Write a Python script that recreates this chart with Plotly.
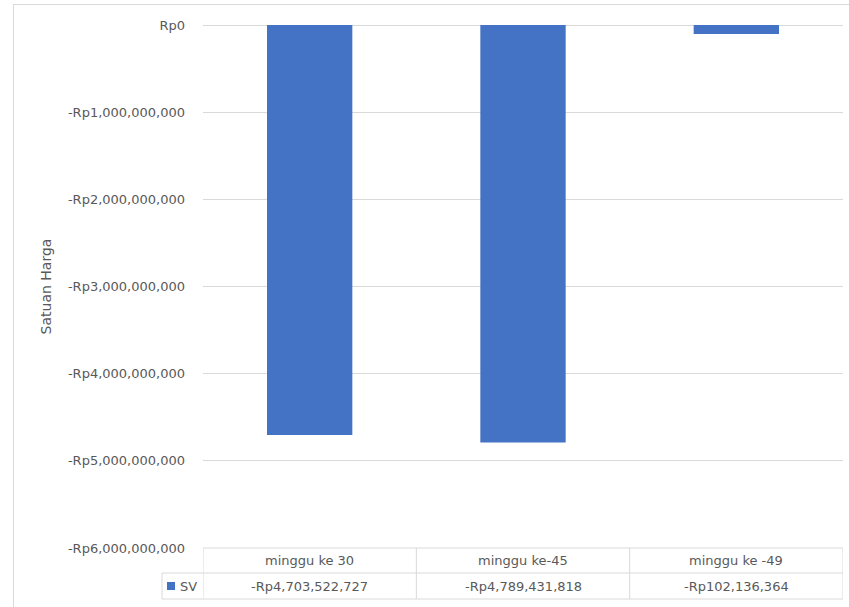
import plotly.graph_objects as go

categories = ["minggu ke 30", "minggu ke-45", "minggu ke -49"]
sv_values = [-4703522727, -4789431818, -102136364]
series_name = "SV"
y_ticks = [0, -1e9, -2e9, -3e9, -4e9, -5e9, -6e9]
y_title = "Satuan Harga"


def rp(v):
    v = int(round(v))
    s = f"Rp{abs(v):,}"
    return "-" + s if v < 0 else s


W, H = 849, 607
L, T = 203, 25
R = W - 843
B = H - 548
pw, ph = W - L - R, H - T - B

def px_x(p):  # page pixel -> paper
    return (p - L) / pw

def px_y(p):
    return (H - B - p) / ph

GRID = "#d9d9d9"
TXT = "#595959"
FONT = "DejaVu Sans"
BLUE = "#4472C4"

fig = go.Figure()
fig.add_trace(go.Bar(x=categories, y=sv_values, name=series_name,
                     marker=dict(color=BLUE, line=dict(width=0)), width=0.4,
                     hoverinfo="skip"))

shapes = []
shapes.append(dict(type="line", xref="paper", yref="paper", x0=px_x(13), x1=px_x(860),
                   y0=px_y(4.5), y1=px_y(4.5), line=dict(color=GRID, width=1)))
shapes.append(dict(type="line", xref="paper", yref="paper", x0=px_x(13.5), x1=px_x(13.5),
                   y0=px_y(4.5), y1=px_y(620), line=dict(color=GRID, width=1)))

row1 = px_y(573)
row2 = px_y(599)
xl = px_x(162)
shapes.append(dict(type="line", xref="paper", yref="paper", x0=0, x1=1, y0=0, y1=0,
                   line=dict(color=GRID, width=1)))
for yy in (row1, row2):
    shapes.append(dict(type="line", xref="paper", yref="paper", x0=xl, x1=1, y0=yy, y1=yy,
                       line=dict(color=GRID, width=1)))
shapes.append(dict(type="line", xref="paper", yref="paper", x0=xl, x1=xl, y0=row1, y1=row2,
                   line=dict(color=GRID, width=1)))
for i in range(len(categories) + 1):
    shapes.append(dict(type="line", xref="x", yref="paper", x0=i - 0.5, x1=i - 0.5,
                       y0=0, y1=row2, line=dict(color=GRID, width=1)))
shapes.append(dict(type="rect", xref="paper", yref="paper", x0=px_x(167), x1=px_x(175),
                   y0=px_y(590), y1=px_y(582), fillcolor=BLUE, line=dict(width=0)))

TS = 13
annotations = []
for c, v in zip(categories, sv_values):
    annotations.append(dict(x=c, xref="x", y=(0 + row1) / 2, yref="paper", text=c,
                            xanchor="center", yanchor="middle",
                            showarrow=False, font=dict(family=FONT, size=TS, color=TXT)))
    annotations.append(dict(x=c, xref="x", y=(row1 + row2) / 2, yref="paper", text=rp(v),
                            xanchor="center", yanchor="middle",
                            showarrow=False, font=dict(family=FONT, size=TS, color=TXT)))
annotations.append(dict(x=px_x(178), xref="paper", y=(row1 + row2) / 2, yref="paper",
                        text=series_name, xanchor="left", yanchor="middle", showarrow=False,
                        font=dict(family=FONT, size=TS, color=TXT)))

fig.update_layout(
    width=W, height=H,
    margin=dict(l=L, r=R, t=T, b=B, autoexpand=False),
    paper_bgcolor="white", plot_bgcolor="white",
    showlegend=False,
    hovermode=False,
    bargap=0.6,
    font=dict(family=FONT, color=TXT),
    xaxis=dict(showticklabels=False, showgrid=False, zeroline=False, showline=False,
               range=[-0.5, 2.5], fixedrange=True),
    yaxis=dict(range=[-6e9, 0], tickvals=y_ticks, ticktext=[rp(v) for v in y_ticks],
               showgrid=True, gridcolor=GRID, gridwidth=1, zeroline=True, zerolinecolor=GRID,
               zerolinewidth=1, showline=False, ticks="", ticklabelstandoff=17,
               tickfont=dict(family=FONT, size=13, color=TXT), fixedrange=True,
               title=dict(text=y_title, font=dict(family=FONT, size=14, color=TXT), standoff=13)),
    shapes=shapes,
    annotations=annotations,
)

fig.write_html("out.html", config={"displayModeBar": False},
               post_script="document.body.style.margin='0px';")
